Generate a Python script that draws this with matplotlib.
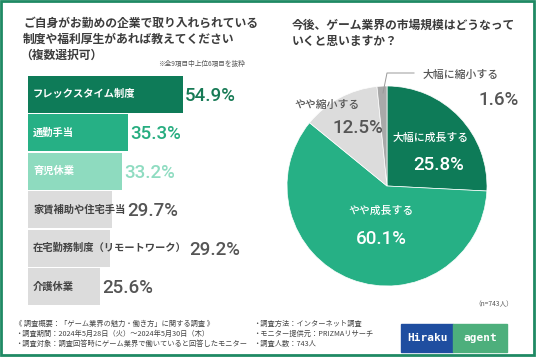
import matplotlib.pyplot as plt
from matplotlib.patches import Rectangle

plt.rcParams['font.family'] = ['Noto Sans CJK JP', 'DejaVu Sans']

# 左: 制度・福利厚生（複数選択）
bar_labels = ['フレックスタイム制度', '通勤手当', '育児休業', '家賃補助や住宅手当',
              '在宅勤務制度（リモートワーク）', '介護休業']
bar_values = [54.9, 35.3, 33.2, 29.7, 29.2, 25.6]
bar_colors = ['#0e7b58', '#26b085', '#8edbbf', '#dcdcdc', '#dcdcdc', '#dcdcdc']
val_colors = ['#177a55', '#27ad80', '#8fdcc1', '#555555', '#555555', '#555555']
lab_colors = ['white', 'white', 'white', '#444444', '#444444', '#444444']

# 右: 市場規模の見通し
pie_labels = ['大幅に成長する', 'やや成長する', 'やや縮小する', '大幅に縮小する']
pie_values = [25.8, 60.1, 12.5, 1.6]
pie_colors = ['#0e7b58', '#26b085', '#dcdcdc', '#a9a9a9']

W, H = 536, 357
fig = plt.figure(figsize=(W / 100, H / 100), dpi=100)

# 棒グラフ
ax = fig.add_axes([28 / W, 1 - 306 / H, 282 / W, 231 / H])
y = list(range(len(bar_values)))
ax.barh(y, bar_values, height=0.96, color=bar_colors)
ax.set_xlim(0, 100)
ax.set_ylim(len(bar_values) - 0.5, -0.5)
ax.axis('off')
labs = []
for i, lab in enumerate(bar_labels):
    labs.append(ax.text(1.8, i, lab, fontsize=7.4, weight='bold', color=lab_colors[i], va='center'))

fig.canvas.draw()
r = fig.canvas.get_renderer()
inv = ax.transData.inverted()
for i, v in enumerate(bar_values):
    ext = labs[i].get_window_extent(r)
    lab_end = inv.transform((ext.x1, 0))[0]
    x0 = max(v, lab_end) + 0.8
    ax.text(x0, i + 0.04, f'{v}%', fontsize=13.5, family='Roboto', weight='medium',
            color=val_colors[i], va='center')

# 円グラフ
pax = fig.add_axes([287 / W, 71 / H, 200 / W, 200 / H])
pax.pie(pie_values, colors=pie_colors, startangle=90, counterclock=False,
        wedgeprops=dict(edgecolor='white', linewidth=0.5))
pax.set_xlim(-1, 1)
pax.set_ylim(-1, 1)
pax.set_aspect('equal')

# 全体の枠・テキスト用（ピクセル座標、最前面）
bg = fig.add_axes([0, 0, 1, 1])
bg.set_xlim(0, W)
bg.set_ylim(H, 0)
bg.axis('off')
bg.patch.set_alpha(0)
bg.add_patch(Rectangle((1, 1), W - 3, H - 3, fill=False, ec='#1f8a64', lw=2))

tc = '#3c3c3c'
bg.text(23, 23, 'ご自身がお勤めの企業で取り入れられている', fontsize=8.5, weight='bold', color=tc, va='center')
bg.text(23, 39, '制度や福利厚生があれば教えてください', fontsize=8.5, weight='bold', color=tc, va='center')
bg.text(20, 55, '（複数選択可）', fontsize=8.5, weight='bold', color=tc, va='center')
bg.text(158, 64, '※全9項目中上位6項目を抜粋', fontsize=4.8, color='#555555', va='center')

bg.text(292, 25, '今後、ゲーム業界の市場規模はどうなって', fontsize=8.5, weight='bold', color=tc, va='center')
bg.text(292, 42, 'いくと思いますか？', fontsize=8.5, weight='bold', color=tc, va='center')
bg.text(474, 304, '（n=743人）', fontsize=4.8, color='#555555', va='center')

g = '#555555'
num = dict(fontsize=13.5, family='Roboto', weight='medium', ha='center', va='center')
pl = dict(fontsize=7.8, weight='medium', ha='center', va='center')
bg.text(431, 138, pie_labels[0], color='white', **pl)
bg.text(439, 165, f'{pie_values[0]}%', color='white', **num)
bg.text(381, 211, pie_labels[1], color='white', **pl)
bg.text(381, 239, f'{pie_values[1]}%', color='white', **num)
bg.text(327, 105, pie_labels[2], color=g, **pl)
bg.text(358, 128, f'{pie_values[2]}%', color=g, **num)
bg.text(461, 75, pie_labels[3], color=g, **pl)
bg.text(499, 100, f'{pie_values[3]}%', color=g, **num)
bg.plot([383, 387, 414], [93, 73, 73], color='#999999', lw=0.7)

# 調査概要
ft = dict(fontsize=5.2, color='#444444', va='center')
bg.text(15, 324, '《 調査概要：「ゲーム業界の魅力・働き方」に関する調査 》', **ft)
bg.text(15, 334, '・調査期間：2024年5月28日（火）～2024年5月30日（木）', **ft)
bg.text(15, 344, '・調査対象：調査回答時にゲーム業界で働いていると回答したモニター', **ft)
bg.text(253, 324, '・調査方法：インターネット調査', **ft)
bg.text(253, 334, '・モニター提供元：PRIZMAリサーチ', **ft)
bg.text(253, 344, '・調査人数：743人', **ft)

# ロゴ
bg.add_patch(Rectangle((401, 324), 52, 28, color='#1f4ea0'))
bg.add_patch(Rectangle((453, 324), 54, 28, color='#4daf7c'))
bg.text(427, 338, 'Hiraku', fontsize=8, family='DejaVu Sans Mono', weight='bold', color='white', ha='center', va='center')
bg.text(480, 338, 'agent', fontsize=8, family='DejaVu Sans Mono', weight='bold', color='white', ha='center', va='center')

fig.savefig('out.png', dpi=100)
